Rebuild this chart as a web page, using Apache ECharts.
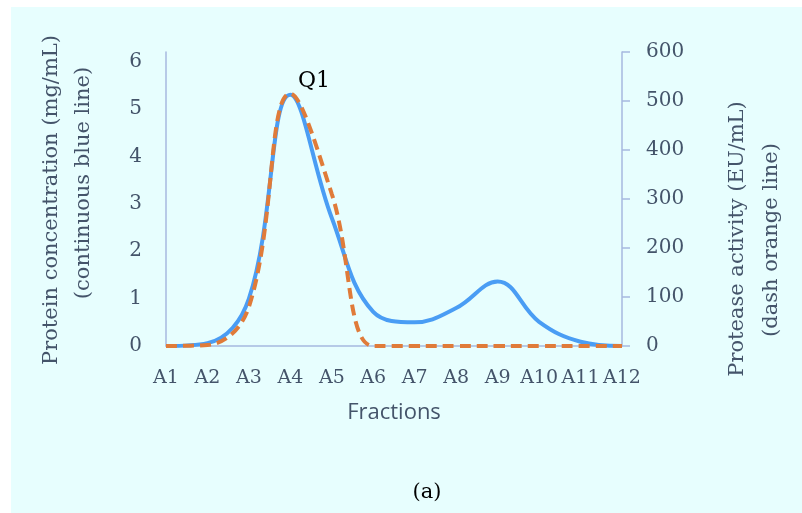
<!DOCTYPE html>
<html>
<head>
<meta charset="utf-8">
<script src="https://cdn.jsdelivr.net/npm/echarts@6/dist/echarts.min.js"></script>
<style>
  html, body { margin: 0; padding: 0; background: #ffffff; }
  #chart { width: 802px; height: 513px; }
</style>
</head>
<body>
<div id="chart"></div>
<script>
// Fraction labels along the elution axis
const fractions = ['A1', 'A2', 'A3', 'A4', 'A5', 'A6', 'A7', 'A8', 'A9', 'A10', 'A11', 'A12'];
// Protein concentration, mg/mL (left axis)
const proteinConc = [0, 0.06, 1.0, 5.3, 2.7, 0.72, 0.5, 0.8, 1.36, 0.51, 0.09, 0];
// Protease activity, EU/mL (right axis)
const proteaseActivity = [0, 2, 80, 515, 310, 0, 0, 0, 0, 0, 0, 0];

const slate = '#44546a';
const axisColor = '#a7b9df';
const serif = '"DejaVu Serif", serif';

const chart = echarts.init(document.getElementById('chart'));
chart.setOption({
  animation: false,
  backgroundColor: 'transparent',
  grid: { left: 166, right: 180, top: 52, bottom: 167, containLabel: false },
  graphic: [
    { type: 'rect', z: -10, shape: { x: 11, y: 7, width: 791, height: 506 }, style: { fill: '#e7fefe' } },
    { type: 'text', x: 52, y: 200, rotation: Math.PI / 2, style: { text: 'Protein concentration (mg/mL)', font: '21px ' + serif, fill: slate, align: 'center', verticalAlign: 'middle' } },
    { type: 'text', x: 84, y: 183, rotation: Math.PI / 2, style: { text: '(continuous blue line)', font: '21px ' + serif, fill: slate, align: 'center', verticalAlign: 'middle' } },
    { type: 'text', x: 738, y: 239, rotation: Math.PI / 2, style: { text: 'Protease activity (EU/mL)', font: '21px ' + serif, fill: slate, align: 'center', verticalAlign: 'middle' } },
    { type: 'text', x: 772, y: 240, rotation: Math.PI / 2, style: { text: '(dash orange line)', font: '21px ' + serif, fill: slate, align: 'center', verticalAlign: 'middle' } },
    { type: 'text', x: 394, y: 413, style: { text: 'Fractions', font: '22px "Open Sans", sans-serif', fill: slate, align: 'center', verticalAlign: 'middle' } },
    { type: 'text', x: 314, y: 81, style: { text: 'Q1', font: '22px ' + serif, fill: '#000000', align: 'center', verticalAlign: 'middle' } },
    { type: 'text', x: 427, y: 493, style: { text: '(a)', font: '21px ' + serif, fill: '#000000', align: 'center', verticalAlign: 'middle' } }
  ],
  xAxis: {
    type: 'category',
    data: fractions,
    boundaryGap: false,
    axisLine: { lineStyle: { color: axisColor, width: 1.5 } },
    axisTick: { show: false },
    splitLine: { show: false },
    axisLabel: { color: slate, fontFamily: serif, fontSize: 19, margin: 23, interval: 0 }
  },
  yAxis: [
    {
      type: 'value', min: 0, max: 6.2, interval: 1, position: 'left',
      axisLine: { show: true, lineStyle: { color: axisColor, width: 1.5 } },
      axisTick: { show: false },
      splitLine: { show: false },
      axisLabel: { color: slate, fontFamily: serif, fontSize: 20, margin: 24, showMaxLabel: false }
    },
    {
      type: 'value', min: 0, max: 600, interval: 100, position: 'right',
      axisLine: { show: true, lineStyle: { color: axisColor, width: 1.5 } },
      axisTick: { show: true, length: 8, lineStyle: { color: axisColor, width: 1.5 } },
      splitLine: { show: false },
      axisLabel: { color: slate, fontFamily: serif, fontSize: 20, margin: 24 }
    }
  ],
  series: [
    {
      name: 'Protein concentration',
      type: 'line',
      yAxisIndex: 0,
      data: proteinConc,
      smooth: 0.4,
      showSymbol: false,
      lineStyle: { color: '#4a9df4', width: 4 },
      z: 2
    },
    {
      name: 'Protease activity',
      type: 'line',
      yAxisIndex: 1,
      data: proteaseActivity,
      smooth: 0.4,
      showSymbol: false,
      lineStyle: { color: '#e07b39', width: 4, type: [11, 6] },
      z: 3
    }
  ]
});
</script>
</body>
</html>
